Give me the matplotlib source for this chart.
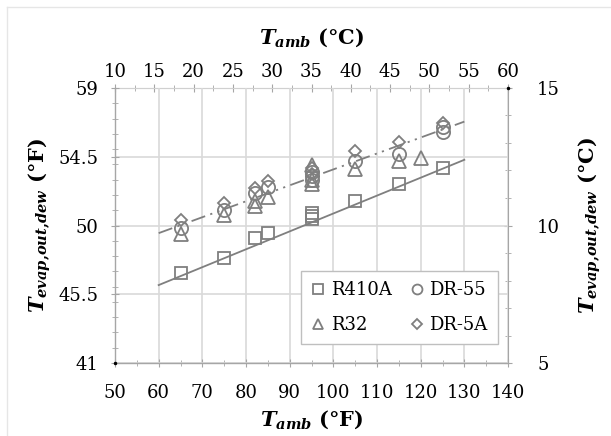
import matplotlib
matplotlib.use('Agg')
import matplotlib.pyplot as plt
from matplotlib.ticker import MultipleLocator, FixedLocator
from matplotlib.lines import Line2D

plt.rcParams['font.family'] = ['DejaVu Serif']
plt.rcParams['mathtext.fontset'] = 'custom'
plt.rcParams['mathtext.it'] = 'DejaVu Serif:italic:bold'
plt.rcParams['mathtext.rm'] = 'DejaVu Serif:bold'
plt.rcParams['mathtext.bf'] = 'DejaVu Serif:bold'

# ---- data (°F) ----
r410a_x = [65, 75, 82, 85, 95, 95, 95, 105, 115, 125]
r410a_y = [46.9, 47.85, 49.15, 49.5, 50.4, 50.6, 50.85, 51.6, 52.7, 53.75]

r32_x = [65, 75, 82, 82, 85, 95, 95, 95, 105, 115, 120]
r32_y = [49.45, 50.7, 51.3, 51.6, 51.85, 52.7, 53.0, 53.95, 53.7, 54.25, 54.4]

dr55_x = [65, 75, 82, 85, 95, 95, 95, 105, 115, 125, 125]
dr55_y = [49.85, 51.0, 52.1, 52.55, 53.0, 53.25, 53.5, 54.25, 54.7, 56.45, 56.1]

dr5a_x = [65, 75, 82, 85, 95, 95, 105, 115, 125]
dr5a_y = [50.35, 51.45, 52.45, 52.9, 53.4, 53.75, 54.85, 55.45, 56.7]

trend_x = [60, 130]
r410a_trend = [46.1, 54.3]
dr_trend = [49.5, 56.8]

xticks_F = [50, 60, 70, 80, 90, 100, 110, 120, 130, 140]
yticks_F = [41, 45.5, 50, 54.5, 59]
ytick_labels_F = ['41', '45.5', '50', '54.5', '59']
xticks_C = [10, 15, 20, 25, 30, 35, 40, 45, 50, 55, 60]
yticks_C = [5, 10, 15]

def f2c(f):
    return (f - 32) / 1.8

def c2f(c):
    return c * 1.8 + 32

gray = '#7f7f7f'
axc = '#a6a6a6'
fs = 13

fig = plt.figure(figsize=(6.11, 4.36), dpi=100)
ax = fig.add_axes([115/611, 1-363/436, 393/611, 275/436])
ax.set_xlim(50, 140)
ax.set_ylim(41, 59)

ax.grid(which='major', color='#d9d9d9', lw=1.2, zorder=0)
ax.set_axisbelow(True)

ax.plot(trend_x, r410a_trend, color=gray, lw=1.3, zorder=2)
ax.plot(trend_x, dr_trend, color=gray, lw=1.3, dashes=(8, 3, 1.2, 3, 1.2, 3), zorder=2)

mk = dict(ls='none', mfc='none', mec=gray, mew=1.3, zorder=3)
h1, = ax.plot(r410a_x, r410a_y, marker='s', ms=9, label='R410A', **mk)
h2, = ax.plot(r32_x, r32_y, marker='^', ms=9.5, label='R32', **mk)
h3, = ax.plot(dr55_x, dr55_y, marker='o', ms=9.5, label='DR-55', **mk)
h4, = ax.plot(dr5a_x, dr5a_y, marker='D', ms=6.6, label='DR-5A', **mk)

ax.plot(ax.get_xlim(), ax.get_ylim(), 'k.', ms=3, clip_on=False, zorder=5)

ax.set_xticks(xticks_F)
ax.xaxis.set_minor_locator(MultipleLocator(5))
ax.set_yticks(yticks_F)
ax.set_yticklabels(ytick_labels_F)
ax.yaxis.set_minor_locator(FixedLocator(list(range(42, 59))))

for s in ax.spines.values():
    s.set_color(axc)
    s.set_linewidth(1.0)
ax.spines['top'].set_visible(False)
ax.spines['right'].set_visible(False)

ax.tick_params(axis='x', which='both', direction='inout', color=axc, labelsize=fs, pad=12)
ax.tick_params(axis='y', which='both', direction='inout', color=axc, labelsize=fs, pad=9)
ax.tick_params(which='major', length=6)
ax.tick_params(which='minor', length=5)

secx = ax.secondary_xaxis('top', functions=(f2c, c2f))
secx.set_xticks(xticks_C)
secx.xaxis.set_minor_locator(MultipleLocator(2.5))
secx.tick_params(which='both', direction='inout', color=axc, labelsize=fs, pad=2)
secx.tick_params(which='major', length=6)
secx.tick_params(which='minor', length=5)
secx.spines['top'].set_color(axc)

secy = ax.secondary_yaxis('right', functions=(f2c, c2f))
secy.set_yticks(yticks_C)
secy.yaxis.set_minor_locator(MultipleLocator(1))
secy.tick_params(which='both', direction='inout', color=axc, labelsize=fs, pad=18)
secy.tick_params(which='major', length=6)
secy.tick_params(which='minor', length=5)
secy.spines['right'].set_color(axc)

lab_fs = 15
ax.set_xlabel(r'$T_{amb}$ (°F)', fontsize=lab_fs, fontweight='bold', labelpad=5)
secx.set_xlabel(r'$T_{amb}$ (°C)', fontsize=lab_fs, fontweight='bold', labelpad=14)
ax.set_ylabel(r'$T_{evap{,}out{,}dew}$ (°F)', fontsize=lab_fs, fontweight='bold', labelpad=4)
secy.set_ylabel(r'$T_{evap{,}out{,}dew}$ (°C)', fontsize=lab_fs, fontweight='bold', labelpad=12)

leg = ax.legend([h1, h2, h3, h4], ['R410A', 'R32', 'DR-55', 'DR-5A'], ncol=2,
                loc='lower left', bbox_to_anchor=(0.45, 0.035), fontsize=fs,
                frameon=True, fancybox=False, edgecolor='#bfbfbf', framealpha=1,
                handlelength=0.8, handletextpad=0.3, columnspacing=1.0,
                labelspacing=0.95, borderpad=0.55, markerscale=0.75)
leg.get_frame().set_linewidth(1.0)

fig.add_artist(Line2D([7/611, 7/611], [0, 1-7/436], transform=fig.transFigure, color='#e6e6e6', lw=1))
fig.add_artist(Line2D([7/611, 1], [1-7/436, 1-7/436], transform=fig.transFigure, color='#e6e6e6', lw=1))

fig.savefig('out.png', dpi=100)
